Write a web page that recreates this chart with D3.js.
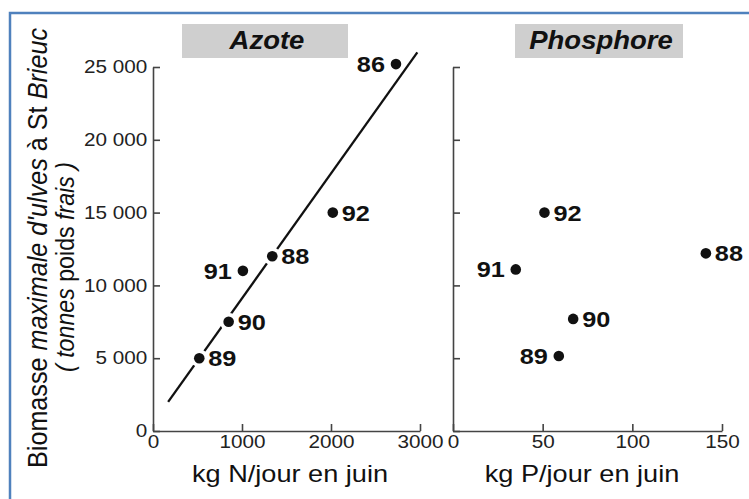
<!DOCTYPE html>
<html>
<head>
<meta charset="utf-8">
<script src="https://cdn.jsdelivr.net/npm/d3@7"></script>
<style>
  body { margin: 0; background: #fff; }
  svg { display: block; font-family: "Liberation Sans", Arial, sans-serif; }
</style>
</head>
<body>
<div id="chart"></div>
<script>
// Azote panel
let yearsN = ['86', '92', '88', '91', '90', '89'];
let azoteN = [2730, 2020, 1340, 1010, 850, 520];
let biomasseN = [25200, 15000, 12000, 11000, 7500, 5000];
let sideN = ['left', 'right', 'right', 'left', 'right', 'right'];

// regression line end points
let fitN = [170, 2970];
let fitB = [2000, 26000];

// Phosphore panel
let yearsP = ['92', '88', '91', '90', '89'];
let phosP = [51, 141, 35, 67, 59];
let biomasseP = [15000, 12200, 11100, 7700, 5150];
let sideP = ['right', 'right', 'left', 'right', 'left'];

let yTicks = [0, 5000, 10000, 15000, 20000, 25000];
let xTicksN = [0, 1000, 2000, 3000];
let xTicksP = [0, 50, 100, 150];

let width = 749;
let height = 499;
let sx = 1.15; // the picture's text is a little wider than the font

let svg = d3.select('#chart').append('svg')
  .attr('width', width)
  .attr('height', height);

// blue frame
svg.append('path')
  .attr('d', `M10,${height} L10,13 L${width},13`)
  .attr('fill', 'none')
  .attr('stroke', '#4f81bd')
  .attr('stroke-width', 2.5);

let y = d3.scaleLinear().domain([0, 25000]).range([431, 67]);
let xN = d3.scaleLinear().domain([0, 3000]).range([153, 420]);
let xP = d3.scaleLinear().domain([0, 150]).range([453, 722]);

let fr = d3.formatLocale({ decimal: ',', thousands: ' ', grouping: [3], currency: ['', ''] });
let fmt = fr.format(',');

function styleAxis(g) {
  g.selectAll('path, line')
    .attr('stroke', '#444')
    .attr('stroke-width', 1.6);
  g.selectAll('text')
    .attr('fill', '#222')
    .style('font-size', '18px')
    .attr('transform', `scale(${sx},1)`);
  g.attr('font-family', null).attr('font-size', null);
}

// left panel axes
svg.append('g')
  .attr('transform', `translate(${xN(0)},0)`)
  .call(d3.axisLeft(y).tickValues(yTicks).tickFormat(fmt).tickSize(-7).tickSizeOuter(0).tickPadding(5))
  .call(styleAxis)
  .call(g => g.selectAll('text').attr('text-anchor', 'end'));

svg.append('g')
  .attr('transform', `translate(0,${y(0)})`)
  .call(d3.axisBottom(xN).tickValues(xTicksN).tickFormat(d3.format('d')).tickSize(-7).tickSizeOuter(0).tickPadding(4))
  .call(styleAxis);

// right panel axes
svg.append('g')
  .attr('transform', `translate(${xP(0)},0)`)
  .call(d3.axisLeft(y).tickValues(yTicks).tickFormat('').tickSize(-7).tickSizeOuter(0))
  .call(styleAxis);

svg.append('g')
  .attr('transform', `translate(0,${y(0)})`)
  .call(d3.axisBottom(xP).tickValues(xTicksP).tickFormat(d3.format('d')).tickSize(-7).tickSizeOuter(0).tickPadding(4))
  .call(styleAxis);

// title boxes
function titleBox(x0, x1, label) {
  svg.append('rect')
    .attr('x', x0)
    .attr('y', 24)
    .attr('width', x1 - x0)
    .attr('height', 34)
    .attr('fill', '#cfcfcf');
  svg.append('text')
    .attr('transform', `translate(${(x0 + x1) / 2 + 2},49) scale(1.1,1)`)
    .attr('text-anchor', 'middle')
    .style('font-size', '25px')
    .style('font-weight', 'bold')
    .style('font-style', 'italic')
    .attr('fill', '#111')
    .text(label);
}
titleBox(182, 348, 'Azote');
titleBox(515, 683, 'Phosphore');

// axis titles
function xTitle(cx, label) {
  svg.append('text')
    .attr('transform', `translate(${cx},482) scale(1.18,1)`)
    .attr('text-anchor', 'middle')
    .style('font-size', '23px')
    .attr('fill', '#111')
    .text(label);
}
xTitle(290, 'kg N/jour en juin');
xTitle(582, 'kg P/jour en juin');

let yl1 = svg.append('text')
  .attr('transform', 'translate(47,248) rotate(-90) scale(1,1.12)')
  .attr('text-anchor', 'middle')
  .attr('textLength', 440)
  .attr('lengthAdjust', 'spacingAndGlyphs')
  .style('font-size', '24px')
  .attr('fill', '#111');
yl1.append('tspan').text('Biomasse ');
yl1.append('tspan').style('font-style', 'italic').text("maximale d'ulves");
yl1.append('tspan').text(' à St ');
yl1.append('tspan').style('font-style', 'italic').text('Brieuc');

let yl2 = svg.append('text')
  .attr('transform', 'translate(74,267) rotate(-90) scale(1,1.12)')
  .attr('text-anchor', 'middle')
  .attr('textLength', 210)
  .attr('lengthAdjust', 'spacingAndGlyphs')
  .style('font-size', '23px')
  .attr('fill', '#111');
yl2.append('tspan').style('font-style', 'italic').text('( tonnes ');
yl2.append('tspan').text('poids ');
yl2.append('tspan').style('font-style', 'italic').text('frais )');

// regression line
svg.append('line')
  .attr('x1', xN(fitN[0]))
  .attr('y1', y(fitB[0]))
  .attr('x2', xN(fitN[1]))
  .attr('y2', y(fitB[1]))
  .attr('stroke', '#111')
  .attr('stroke-width', 2.3);

function points(xs, ys, years, sides, x) {
  let data = years.map((d, i) => ({ year: d, x: xs[i], y: ys[i], side: sides[i] }));

  let g = svg.append('g');

  // white gap where the line passes a dot
  g.selectAll('.halo')
    .data(data)
    .enter()
    .append('circle')
    .attr('cx', d => x(d.x))
    .attr('cy', d => y(d.y))
    .attr('r', 9)
    .attr('fill', '#fff');

  g.selectAll('.dot')
    .data(data)
    .enter()
    .append('circle')
    .attr('cx', d => x(d.x))
    .attr('cy', d => y(d.y))
    .attr('r', 5.3)
    .attr('fill', '#111');

  g.selectAll('.lbl')
    .data(data)
    .enter()
    .append('text')
    .attr('transform', d => {
      let px = x(d.x) + (d.side === 'left' ? -11 : 9);
      return `translate(${px},${y(d.y) + 8}) scale(${sx},1)`;
    })
    .attr('text-anchor', d => d.side === 'left' ? 'end' : 'start')
    .style('font-size', '22px')
    .style('font-weight', 'bold')
    .attr('fill', '#111')
    .text(d => d.year);
}

points(azoteN, biomasseN, yearsN, sideN, xN);
points(phosP, biomasseP, yearsP, sideP, xP);
</script>
</body>
</html>
